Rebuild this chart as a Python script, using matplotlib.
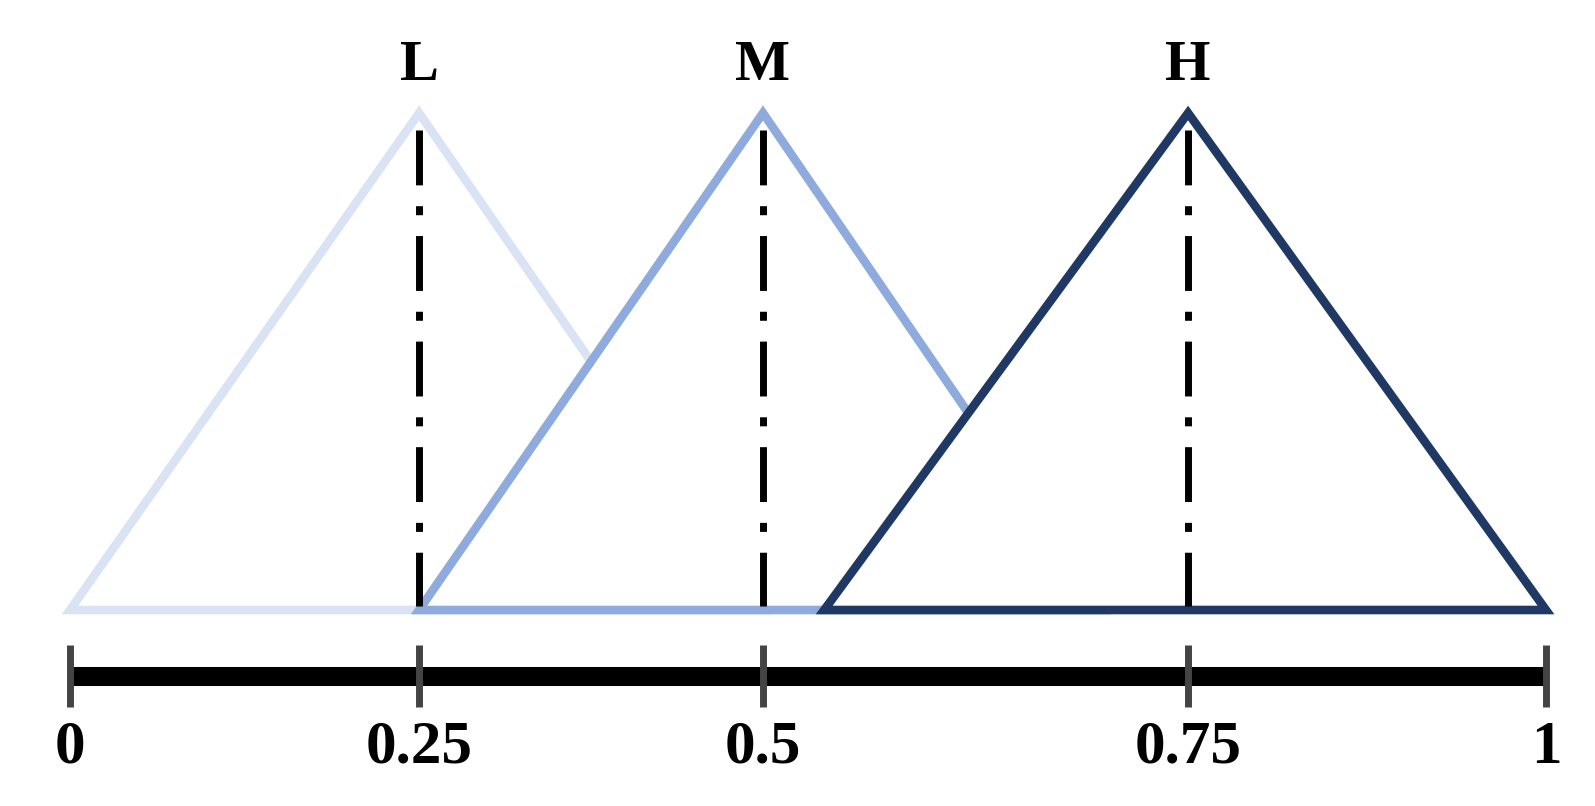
import matplotlib.pyplot as plt
import numpy as np
from matplotlib.patches import Polygon
from matplotlib.scale import FuncScale

plt.rcParams['font.family'] = ['Liberation Serif', 'DejaVu Serif']
plt.rcParams['font.weight'] = 'bold'

# fuzzy sets: (left foot, peak, right foot) in axis units
set_names = ['L', 'M', 'H']
set_left = [0.0, 0.25, 0.536]
set_peak = [0.25, 0.5, 0.75]
set_right = [0.5, 0.70, 1.0]
set_colors = ['#dae3f3', '#8faadc', '#203864']

tick_vals = [0, 0.25, 0.5, 0.75, 1]
tick_labels = ['0', '0.25', '0.5', '0.75', '1']
# the drawing spaces the ticks unevenly
tick_spacing = [0.0, 0.2365, 0.4695, 0.7575, 1.0]


def fwd(v):
    return np.interp(v, tick_vals, tick_spacing)


def inv(u):
    return np.interp(u, tick_spacing, tick_vals)


W, H = 1595, 806
fig = plt.figure(figsize=(W / 100, H / 100), dpi=100)
ax = fig.add_axes([70 / W, (H - 610) / H, 1476 / W, 497 / H])
ax.set_xscale(FuncScale(ax, (fwd, inv)))
ax.set_xlim(0, 1)
ax.set_ylim(0, 1)

# triangles are white-filled, so each one hides the one before it
for i, (name, a, b, c, col) in enumerate(zip(set_names, set_left, set_peak,
                                               set_right, set_colors)):
    tri = Polygon([[a, 0], [b, 1], [c, 0]], closed=True, facecolor='white',
                  edgecolor=col, lw=6.2, joinstyle='miter', clip_on=False,
                  zorder=2 + 0.1 * i)
    ax.add_patch(tri)
    ax.plot([b, b], [0.965, 0.008], color='black', lw=5,
            linestyle=(0, (7.9, 3, 1.3, 3)), dash_capstyle='butt',
            clip_on=False, zorder=3)
    ax.text(b, 1.095, name, ha='center', va='center', fontsize=42,
            fontweight='bold', clip_on=False)

# the thick number line with its ticks
for s in ['top', 'left', 'right']:
    ax.spines[s].set_visible(False)
sp = ax.spines['bottom']
sp.set_position(('data', -0.133))
sp.set_bounds(0, 1)
sp.set_linewidth(13.7)
sp.set_color('black')
sp.set_capstyle('butt')
ax.set_yticks([])
ax.set_xticks(tick_vals)
ax.set_xticklabels(tick_labels)
ax.xaxis.set_zorder(3)
ax.tick_params(axis='x', direction='inout', length=44.6, width=5,
               color='#444444', pad=9, labelsize=44)
ax.patch.set_visible(False)

fig.savefig('out.png', dpi=100, facecolor='white')
